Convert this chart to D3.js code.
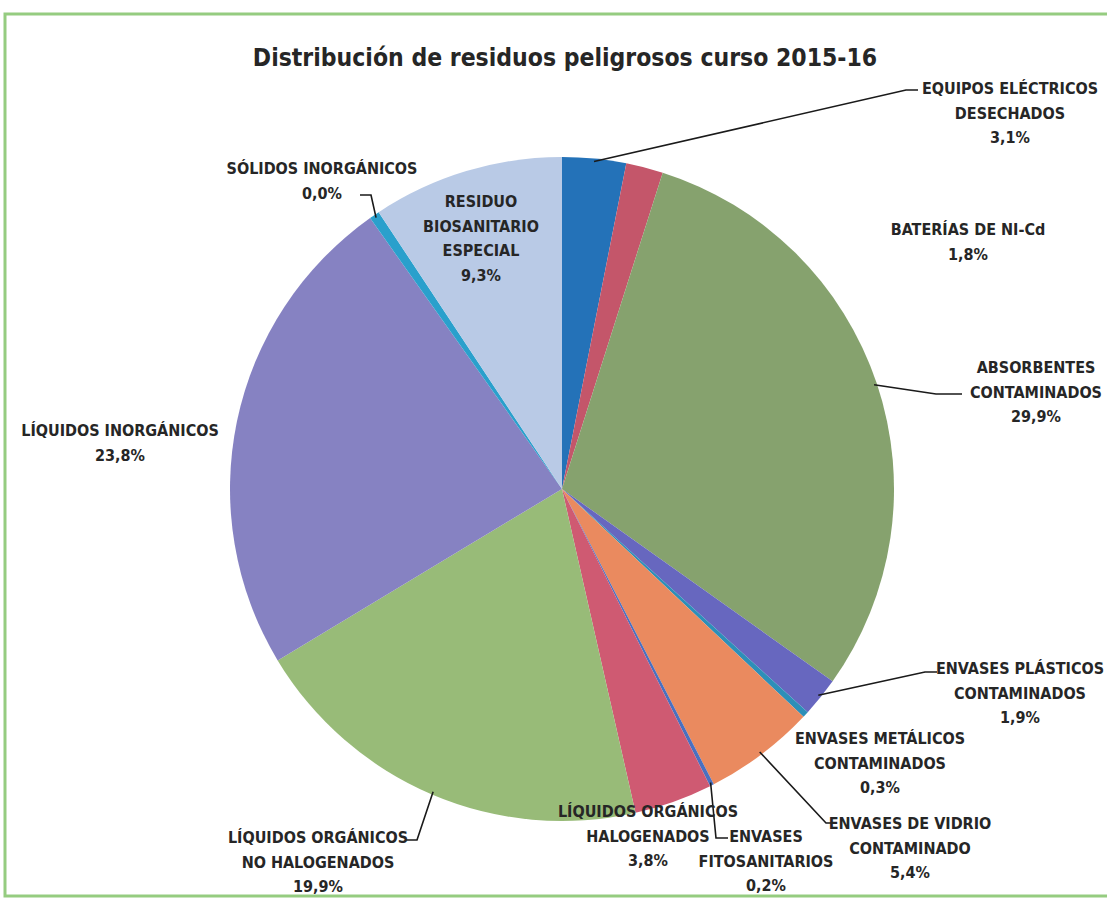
<!DOCTYPE html>
<html lang="es">
<head>
<meta charset="UTF-8">
<title>Distribución de residuos peligrosos curso 2015-16</title>
<script src="https://d3js.org/d3.v7.min.js"></script>
<style>
    body { margin: 0; background: #fff; }
    text { font-family: "Liberation Sans Narrow", "DejaVu Sans Condensed", sans-serif; font-weight: bold; fill: #262626; }
</style>
</head>
<body>
<div id="chart"></div>
<script>
// datos (porcentajes, en orden horario desde las 12)
var categories = [
    "EQUIPOS ELÉCTRICOS DESECHADOS",
    "BATERÍAS DE NI-Cd",
    "ABSORBENTES CONTAMINADOS",
    "ENVASES PLÁSTICOS CONTAMINADOS",
    "ENVASES METÁLICOS CONTAMINADOS",
    "ENVASES DE VIDRIO CONTAMINADO",
    "ENVASES FITOSANITARIOS",
    "LÍQUIDOS ORGÁNICOS HALOGENADOS",
    "LÍQUIDOS ORGÁNICOS NO HALOGENADOS",
    "LÍQUIDOS INORGÁNICOS",
    "SÓLIDOS INORGÁNICOS",
    "RESIDUO BIOSANITARIO ESPECIAL"
];
var values = [3.1, 1.8, 29.9, 1.9, 0.3, 5.4, 0.2, 3.8, 19.9, 23.8, 0.5, 9.3];
var shownPct = ["3,1%", "1,8%", "29,9%", "1,9%", "0,3%", "5,4%", "0,2%", "3,8%", "19,9%", "23,8%", "0,0%", "9,3%"];
var colors = ["#2472b8", "#c4566a", "#86a26e", "#6767bf", "#2d8fb8", "#ea8a5f",
              "#4a70c0", "#cf5a72", "#98bb78", "#8682c2", "#2aa0cc", "#b9cae6"];

var W = 1107, H = 902;
var cx = 562, cy = 489, R = 332;

// colocación manual de las etiquetas (como en la hoja original)
var labelLayout = [
    { lines: ["EQUIPOS ELÉCTRICOS", "DESECHADOS"], x: 1010, y: 88, leader: [[906, 90], [918, 90]] },
    { lines: ["BATERÍAS DE NI-Cd"], x: 968, y: 229 },
    { lines: ["ABSORBENTES", "CONTAMINADOS"], x: 1036, y: 367, leader: [[936, 394], [962, 394]] },
    { lines: ["ENVASES PLÁSTICOS", "CONTAMINADOS"], x: 1020, y: 668, leader: [[925, 672], [937, 672]] },
    { lines: ["ENVASES METÁLICOS", "CONTAMINADOS"], x: 880, y: 738 },
    { lines: ["ENVASES DE VIDRIO", "CONTAMINADO"], x: 910, y: 823, leader: [[826, 823], [835, 823]] },
    { lines: ["ENVASES", "FITOSANITARIOS"], x: 766, y: 836, leader: [[716, 838], [728, 838]] },
    { lines: ["LÍQUIDOS ORGÁNICOS", "HALOGENADOS"], x: 648, y: 811 },
    { lines: ["LÍQUIDOS ORGÁNICOS", "NO HALOGENADOS"], x: 318, y: 837, leader: [[417, 840], [405, 840]] },
    { lines: ["LÍQUIDOS INORGÁNICOS"], x: 120, y: 430 },
    { lines: ["SÓLIDOS INORGÁNICOS"], x: 322, y: 168, leader: [[371, 195], [360, 195]] },
    { lines: ["RESIDUO", "BIOSANITARIO", "ESPECIAL"], x: 481, y: 201 }
];

var svg = d3.select("#chart").append("svg")
    .attr("width", W)
    .attr("height", H);

svg.append("rect")
    .attr("width", W).attr("height", H)
    .attr("fill", "#fff");

// marco verde del gráfico
svg.append("rect")
    .attr("x", 5).attr("y", 14)
    .attr("width", W + 20).attr("height", 882)
    .attr("fill", "none")
    .attr("stroke", "#95cc80")
    .attr("stroke-width", 3);

svg.append("text")
    .attr("x", 565).attr("y", 66)
    .attr("text-anchor", "middle")
    .style("font-size", "24.5px")
    .text("Distribución de residuos peligrosos curso 2015-16");

var pie = d3.pie().sort(null).value(function(d) { return d; });
var arcs = pie(values);
var arc = d3.arc().innerRadius(0).outerRadius(R);

var g = svg.append("g").attr("transform", "translate(" + cx + "," + cy + ")");

g.selectAll("path")
    .data(arcs)
    .enter().append("path")
    .attr("d", arc)
    .attr("fill", function(d, i) { return colors[i]; });

// líneas guía
var line = d3.line();
labelLayout.forEach(function(lab, i) {
    if (!lab.leader) return;
    var a = (arcs[i].startAngle + arcs[i].endAngle) / 2;
    var start = [cx + (R - 3) * Math.sin(a), cy - (R - 3) * Math.cos(a)];
    svg.append("path")
        .attr("d", line([start].concat(lab.leader)))
        .attr("fill", "none")
        .attr("stroke", "#1a1a1a")
        .attr("stroke-width", 1.6);
});

// etiquetas: nombre + porcentaje mostrado
labelLayout.forEach(function(lab, i) {
    var t = svg.append("text")
        .attr("text-anchor", "middle")
        .style("font-size", "16px");
    lab.lines.concat([shownPct[i]]).forEach(function(s, k) {
        t.append("tspan")
            .attr("x", lab.x)
            .attr("y", lab.y + k * 24.5 + 6)
            .text(s);
    });
});
</script>
</body>
</html>
